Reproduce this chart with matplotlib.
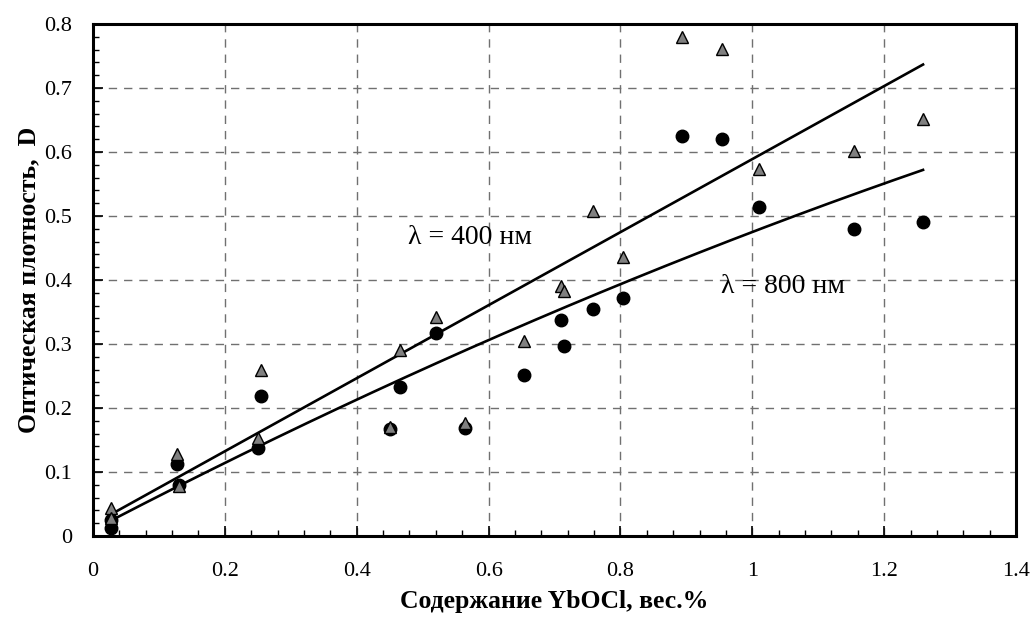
import numpy as np
import matplotlib
matplotlib.use("Agg")
import matplotlib.pyplot as plt
from matplotlib.ticker import MultipleLocator, FuncFormatter

# YbOCl content, wt.%
conc = [0.028, 0.028, 0.128, 0.130, 0.250, 0.255, 0.451, 0.465, 0.520, 0.565,
        0.654, 0.710, 0.714, 0.758, 0.804, 0.893, 0.9535, 1.010, 1.1545, 1.259]
# optical density at 400 nm (triangles)
d400 = [0.044, 0.028, 0.128, 0.078, 0.153, 0.260, 0.170, 0.291, 0.342, 0.177,
        0.304, 0.390, 0.383, 0.507, 0.436, 0.779, 0.761, 0.574, 0.601, 0.652]
# optical density at 800 nm (circles)
d800 = [0.013, 0.025, 0.113, 0.079, 0.137, 0.218, 0.167, 0.233, 0.317, 0.168,
        0.252, 0.337, 0.297, 0.354, 0.372, 0.625, 0.621, 0.514, 0.479, 0.491]

x_ticks = [0, 0.2, 0.4, 0.6, 0.8, 1.0, 1.2, 1.4]
y_ticks = [0, 0.1, 0.2, 0.3, 0.4, 0.5, 0.6, 0.7, 0.8]

plt.rcParams['font.family'] = ['Liberation Serif', 'DejaVu Serif']

fig = plt.figure(figsize=(10.32, 6.26), dpi=100)
ax = fig.add_axes([0.0901, 0.1438, 0.8944, 0.8179])

# trend lines fitted to each series
xs = np.linspace(min(conc), max(conc), 200)
fit400 = np.polyfit(conc, d400, 1)
fit800 = np.polyfit(conc, d800, 2)
ax.plot(xs, np.polyval(fit400, xs), color='black', lw=1.9, zorder=3)
ax.plot(xs, np.polyval(fit800, xs), color='black', lw=1.9, zorder=3)

ax.plot(conc, d800, 'o', ms=9.0, color='black', mec='black', zorder=4)
ax.plot(conc, d400, '^', ms=9.0, color='#808080', mec='black', mew=1.0, zorder=5)

ax.set_xlim(0, 1.4)
ax.set_ylim(0, 0.8)
ax.set_xticks(x_ticks)
ax.set_yticks(y_ticks)
fmt = FuncFormatter(lambda v, p: ('%g' % round(v, 3)))
ax.xaxis.set_major_formatter(fmt)
ax.yaxis.set_major_formatter(fmt)
ax.xaxis.set_minor_locator(MultipleLocator(0.04))
ax.yaxis.set_minor_locator(MultipleLocator(0.02))
ax.tick_params(which='major', direction='in', length=7, width=1.2, labelsize=16)
ax.tick_params(which='minor', direction='in', length=4, width=1.0)
ax.tick_params(axis='x', which='major', pad=19)
ax.tick_params(axis='y', which='major', pad=15)

ax.grid(True, which='major', color='#707070', linestyle=(0, (6, 5)), linewidth=1.0)
for s in ax.spines.values():
    s.set_linewidth(2.2)

ax.set_xlabel('Содержание YbOCl, вес.%', fontsize=18.5, fontweight='bold', labelpad=6)
ax.set_ylabel('Оптическая плотность,  D', fontsize=18.5, fontweight='bold', labelpad=3)

ax.text(0.478, 0.467, 'λ = 400 нм', fontsize=20, va='center', ha='left')
ax.text(0.952, 0.390, 'λ = 800 нм', fontsize=20, va='center', ha='left')

fig.savefig('out.png', dpi=100)
